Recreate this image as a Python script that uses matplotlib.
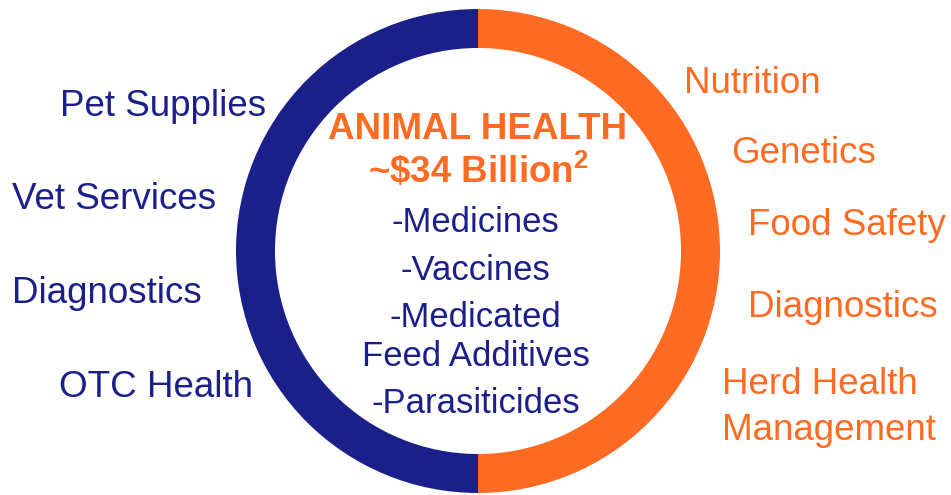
import matplotlib
matplotlib.use("Agg")
import matplotlib.pyplot as plt

plt.rcParams['font.family'] = ['Liberation Sans', 'DejaVu Sans']
plt.rcParams['mathtext.fontset'] = 'custom'
plt.rcParams['mathtext.rm'] = 'Liberation Sans'
plt.rcParams['mathtext.bf'] = 'Liberation Sans:bold'

NAVY = '#1b1f8a'
ORANGE = '#ff6b22'

segments = ['Companion Animal', 'Production Animal']
shares = [50, 50]
seg_colors = [NAVY, ORANGE]

left_labels = ['Pet Supplies', 'Vet Services', 'Diagnostics', 'OTC Health']
right_labels = ['Nutrition', 'Genetics', 'Food Safety', 'Diagnostics',
                'Herd Health', 'Management']
center_title = 'ANIMAL HEALTH'
center_value = r'~\$34 Billion$^{\mathbf{2}}$'
center_items = ['-Medicines', '-Vaccines', '-Medicated', 'Feed Additives',
                '-Parasiticides']

W, H = 951, 495
fig = plt.figure(figsize=(W / 100, H / 100), dpi=100)
ax = fig.add_axes([0, 0, 1, 1])

cx, cy, R = 478, H - 251, 242
ax.pie(shares, colors=seg_colors, startangle=90, counterclock=True,
       center=(cx, cy), radius=R, wedgeprops=dict(width=39, linewidth=0),
       frame=True)
ax.set_xlim(0, W)
ax.set_ylim(0, H)
ax.set_aspect('equal')
ax.axis('off')

fs = 26.5
# left labels: (center x, baseline y from top)
left_pos = [(163, 116), (114, 209), (107, 303), (156, 397)]
for t, (x, y) in zip(left_labels, left_pos):
    ax.text(x, H - y, t, color=NAVY, fontsize=fs, ha='center', va='baseline')

# right labels: (left x, baseline y from top)
right_pos = [(684, 93), (731, 163), (748, 235), (748, 317), (722, 394),
             (722, 440)]
for t, (x, y) in zip(right_labels, right_pos):
    ax.text(x, H - y, t, color=ORANGE, fontsize=fs, ha='left', va='baseline')

ax.text(478, H - 139, center_title, color=ORANGE, fontsize=fs,
        fontweight='bold', ha='center', va='baseline')
ax.text(478, H - 183, center_value, color=ORANGE, fontsize=fs,
        fontweight='bold', ha='center', va='baseline')

item_pos = [(475.5, 232), (475.5, 280), (475.5, 327), (475.5, 366),
            (475.5, 413)]
for t, (x, y) in zip(center_items, item_pos):
    ax.text(x, H - y, t, color=NAVY, fontsize=fs * 0.94, ha='center',
            va='baseline')

fig.savefig('out.png', dpi=100)
